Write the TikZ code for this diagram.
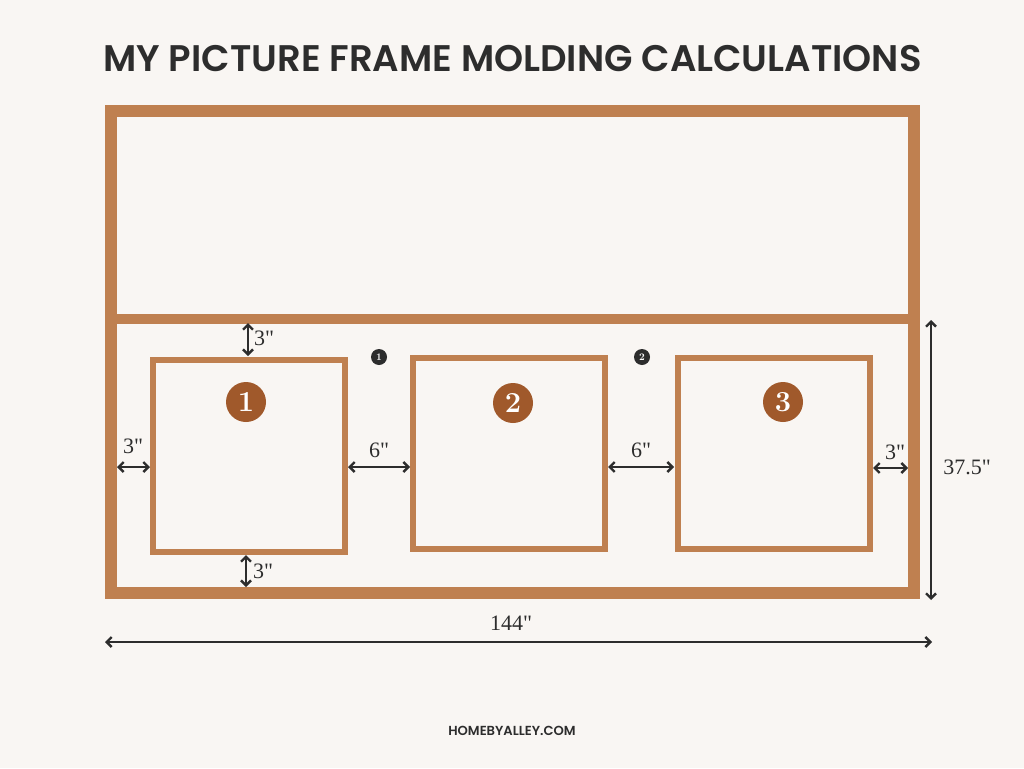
\documentclass[tikz,border=0pt]{standalone}
\usepackage{fontspec}
\usetikzlibrary{arrows.meta}
\newfontfamily\titlefont{Poppins SemiBold}
\newfontfamily\numfont{Latin Modern Roman}[Ligatures=TeXOff]
\newfontfamily\dimfont{Liberation Serif}[Ligatures=TeXOff]
\definecolor{bgC}{HTML}{F9F6F3}
\definecolor{frameC}{HTML}{BF8050}
\definecolor{discC}{HTML}{A0592B}
\definecolor{inkC}{HTML}{2D2D2D}
\tikzset{
  rail/.style={draw=frameC, line width=12pt, inner sep=0pt, outer sep=0pt},
  midrail/.style={draw=frameC, line width=10pt},
  pic box/.style={draw=frameC, line width=6pt, inner sep=0pt, outer sep=0pt, minimum width=192pt, minimum height=192pt},
  disc/.style={circle, fill=discC, text=white, inner sep=0pt, minimum size=40pt, font=\numfont\bfseries\fontsize{29}{29}\selectfont},
  dot/.style={circle, fill=inkC, text=white, inner sep=0pt, minimum size=16pt, font=\numfont\fontsize{10}{10}\selectfont\bfseries},
  dim/.style={draw=inkC, line width=2.4pt, {Straight Barb[length=5pt,width=10pt]}-{Straight Barb[length=5pt,width=10pt]}},
  dimlabel/.style={text=inkC, inner sep=0pt, font=\dimfont\fontsize{22}{22}\selectfont},
}
\begin{document}
\begin{tikzpicture}[x=1pt,y=-1pt]
\fill[bgC] (0,0) rectangle (1024,768);
\useasboundingbox (0,0) rectangle (1024,768);

\node[text=inkC, font=\titlefont\fontsize{37}{37}\selectfont] (title) at (512.5,59) {MY PICTURE FRAME MOLDING CALCULATIONS};

% outer frame and middle rail
\node[rail, minimum width=803pt, minimum height=482pt] (outer) at (512.5,352) {};
\coordinate (railL) at (117,318.5);
\coordinate (railR) at (909,318.5);
\draw[midrail] (railL) -- (railR);

% picture boxes
\node[pic box] (box1) at (249,456) {};
\node[pic box, minimum height=191pt] (box2) at (509,453.5) {};
\node[pic box, minimum height=191pt] (box3) at (773.5,453.5) {};

% number discs
\node[disc] (n1) at (246,402) {1};
\node[disc] (n2) at (513,403) {2};
\node[disc] (n3) at (783,402) {3};
\node[dot] (d1) at (379,357) {1};
\node[dot] (d2) at (642,357) {2};

% dimension end points
\coordinate (t3a) at (248,323);   \coordinate (t3b) at (248,356);
\coordinate (l3a) at (117,467);   \coordinate (l3b) at (150,467);
\coordinate (s6a) at (348,467);   \coordinate (s6b) at (410,467);
\coordinate (s6c) at (608,467);   \coordinate (s6d) at (674,467);
\coordinate (r3a) at (873,468);   \coordinate (r3b) at (908,468);
\coordinate (b3a) at (246,555);   \coordinate (b3b) at (246,587);
\coordinate (h37a) at (931,320);  \coordinate (h37b) at (931,600);
\coordinate (w144a) at (105,642); \coordinate (w144b) at (932,642);

\draw[dim] (t3a) -- (t3b);
\draw[dim] (l3a) -- (l3b);
\draw[dim] (s6a) -- (s6b);
\draw[dim] (s6c) -- (s6d);
\draw[dim] (r3a) -- (r3b);
\draw[dim] (b3a) -- (b3b);
\draw[dim] (h37a) -- (h37b);
\draw[dim] (w144a) -- (w144b);

% dimension labels
\node[dimlabel] (lt3) at (264,338) {3"};
\node[dimlabel] (ll3) at (133,446) {3"};
\node[dimlabel] (l6a) at (379,450) {6"};
\node[dimlabel] (l6b) at (641,450) {6"};
\node[dimlabel] (lr3) at (895,452) {3"};
\node[dimlabel] (lb3) at (263,571) {3"};
\node[dimlabel] (l37) at (967,467) {37.5"};
\node[dimlabel] (l144) at (511,623) {144"};

\node[text=inkC, font=\titlefont\fontsize{13.1}{13.1}\selectfont] (foot) at (512,731) {HOMEBYALLEY.COM};
\end{tikzpicture}
\end{document}
